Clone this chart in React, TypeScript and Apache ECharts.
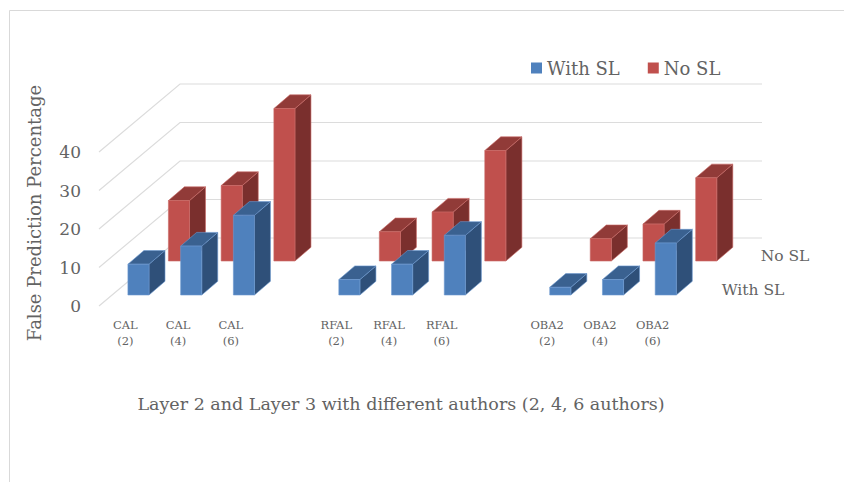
import React, { useEffect, useRef } from "react";
import * as echarts from "echarts";

const categories = ["CAL\n(2)", "CAL\n(4)", "CAL\n(6)", "", "RFAL\n(2)", "RFAL\n(4)", "RFAL\n(6)", "", "OBA2\n(2)", "OBA2\n(4)", "OBA2\n(6)"];
const withSL = [8, 12.7, 20.7, null, 4, 8, 15.5, null, 2, 4, 13.5];
const noSL = [15.7, 19.6, 39.6, null, 7.6, 12.7, 28.7, null, 5.8, 9.6, 21.6];
const gridValues = [0, 10, 20, 30, 40];

const FONT = "'DejaVu Serif', serif";
const INK = "#636363";
const DEPTH_X = 81;
const DEPTH_Y = 68;
const BAR_WIDTH = 0.4;
const BAR_DX = 16;
const BAR_DY = 13.7;

const barRenderer = (row: number, colors: { front: string; side: string; top: string; edge: string }) => (_p: any, api: any) => {
  const cat = api.value(0);
  const v = api.value(1);
  const [cx, y0] = api.coord([cat, 0]);
  const [, yv] = api.coord([cat, v]);
  const w = api.size([1, 0])[0] * BAR_WIDTH;
  const x = cx - w / 2 + row * DEPTH_X;
  const bottom = y0 - row * DEPTH_Y;
  const top = yv - row * DEPTH_Y;
  const stroke = { stroke: colors.edge, lineWidth: 0.6 };
  return {
    type: "group",
    children: [
      {
        type: "polygon",
        shape: { points: [[x + w, bottom], [x + w + BAR_DX, bottom - BAR_DY], [x + w + BAR_DX, top - BAR_DY], [x + w, top]] },
        style: { fill: colors.side, ...stroke },
      },
      {
        type: "polygon",
        shape: { points: [[x, top], [x + w, top], [x + w + BAR_DX, top - BAR_DY], [x + BAR_DX, top - BAR_DY]] },
        style: { fill: colors.top, ...stroke },
      },
      { type: "rect", shape: { x, y: top, width: w, height: bottom - top }, style: { fill: colors.front, ...stroke } },
    ],
  };
};

const toData = (vals: (number | null)[]) =>
  vals.map((v, i) => (v === null ? null : [i, v])).filter(Boolean);

export default function App() {
  const ref = useRef<HTMLDivElement>(null);
  useEffect(() => {
    const chart = echarts.init(ref.current!, null, { renderer: "svg" });
    chart.setOption({
      animation: false,
      backgroundColor: "#ffffff",
      grid: { left: 99, top: 152, width: 580, height: 154, containLabel: false },
      xAxis: {
        type: "category",
        data: categories,
        axisLine: { show: false },
        axisTick: { show: false },
        splitLine: { show: false },
        axisLabel: { interval: 0, margin: 11, fontFamily: FONT, fontSize: 11.5, lineHeight: 16, color: INK },
      },
      yAxis: {
        type: "value",
        min: 0,
        max: 40,
        interval: 10,
        axisLine: { show: false },
        axisTick: { show: false },
        splitLine: { show: false },
        axisLabel: { margin: 18, fontFamily: FONT, fontSize: 17, color: INK },
      },
      legend: {
        data: ["With SL", "No SL"],
        left: 526,
        top: 54,
        icon: "rect",
        itemWidth: 11,
        itemHeight: 11,
        itemGap: 28,
        textStyle: { fontFamily: FONT, fontSize: 18, color: INK },
      },
      graphic: [
        { type: "rect", z: -1, shape: { x: 9.5, y: 10.5, width: 900, height: 600 }, style: { fill: "none", stroke: "#d9d9d9", lineWidth: 1 }, silent: true },
        { type: "text", x: 34, y: 213, rotation: Math.PI / 2, style: { text: "False Prediction Percentage", fontFamily: FONT, fontSize: 18, fill: INK, align: "center", verticalAlign: "middle" } },
        { type: "text", x: 401, y: 404, style: { text: "Layer 2 and Layer 3 with different authors (2, 4, 6 authors)", fontFamily: FONT, fontSize: 17.5, fill: INK, align: "center", verticalAlign: "middle" } },
        { type: "text", x: 785, y: 256, style: { text: "No SL", fontFamily: FONT, fontSize: 15.5, fill: INK, align: "center", verticalAlign: "middle" } },
        { type: "text", x: 753, y: 290, style: { text: "With SL", fontFamily: FONT, fontSize: 15.5, fill: INK, align: "center", verticalAlign: "middle" } },
      ],
      series: [
        {
          type: "custom",
          name: "grid",
          silent: true,
          z: 1,
          data: gridValues.map((v) => [0, v]),
          renderItem: (_p: any, api: any) => {
            const [, y] = api.coord([0, api.value(1)]);
            const left = 99;
            const right = 681;
            return {
              type: "polyline",
              shape: { points: [[left, y], [left + DEPTH_X, y - DEPTH_Y], [right + DEPTH_X, y - DEPTH_Y]] },
              style: { stroke: "#dcdcdc", lineWidth: 1.2, fill: "none" },
            };
          },
        },
        {
          type: "custom",
          name: "No SL",
          z: 2,
          itemStyle: { color: "#C0504D" },
          data: toData(noSL),
          renderItem: barRenderer(45 / 68, { front: "#C0504D", side: "#7A2F2D", top: "#913B38", edge: "#c96a67" }),
        },
        {
          type: "custom",
          name: "With SL",
          z: 3,
          itemStyle: { color: "#4F81BD" },
          data: toData(withSL),
          renderItem: barRenderer(11 / 68, { front: "#4F81BD", side: "#2F5079", top: "#3A6190", edge: "#6b98d0" }),
        },
      ],
    });
    return () => chart.dispose();
  }, []);
  return <div ref={ref} style={{ position: "absolute", left: 0, top: 0, width: 844, height: 482 }} />;
}
